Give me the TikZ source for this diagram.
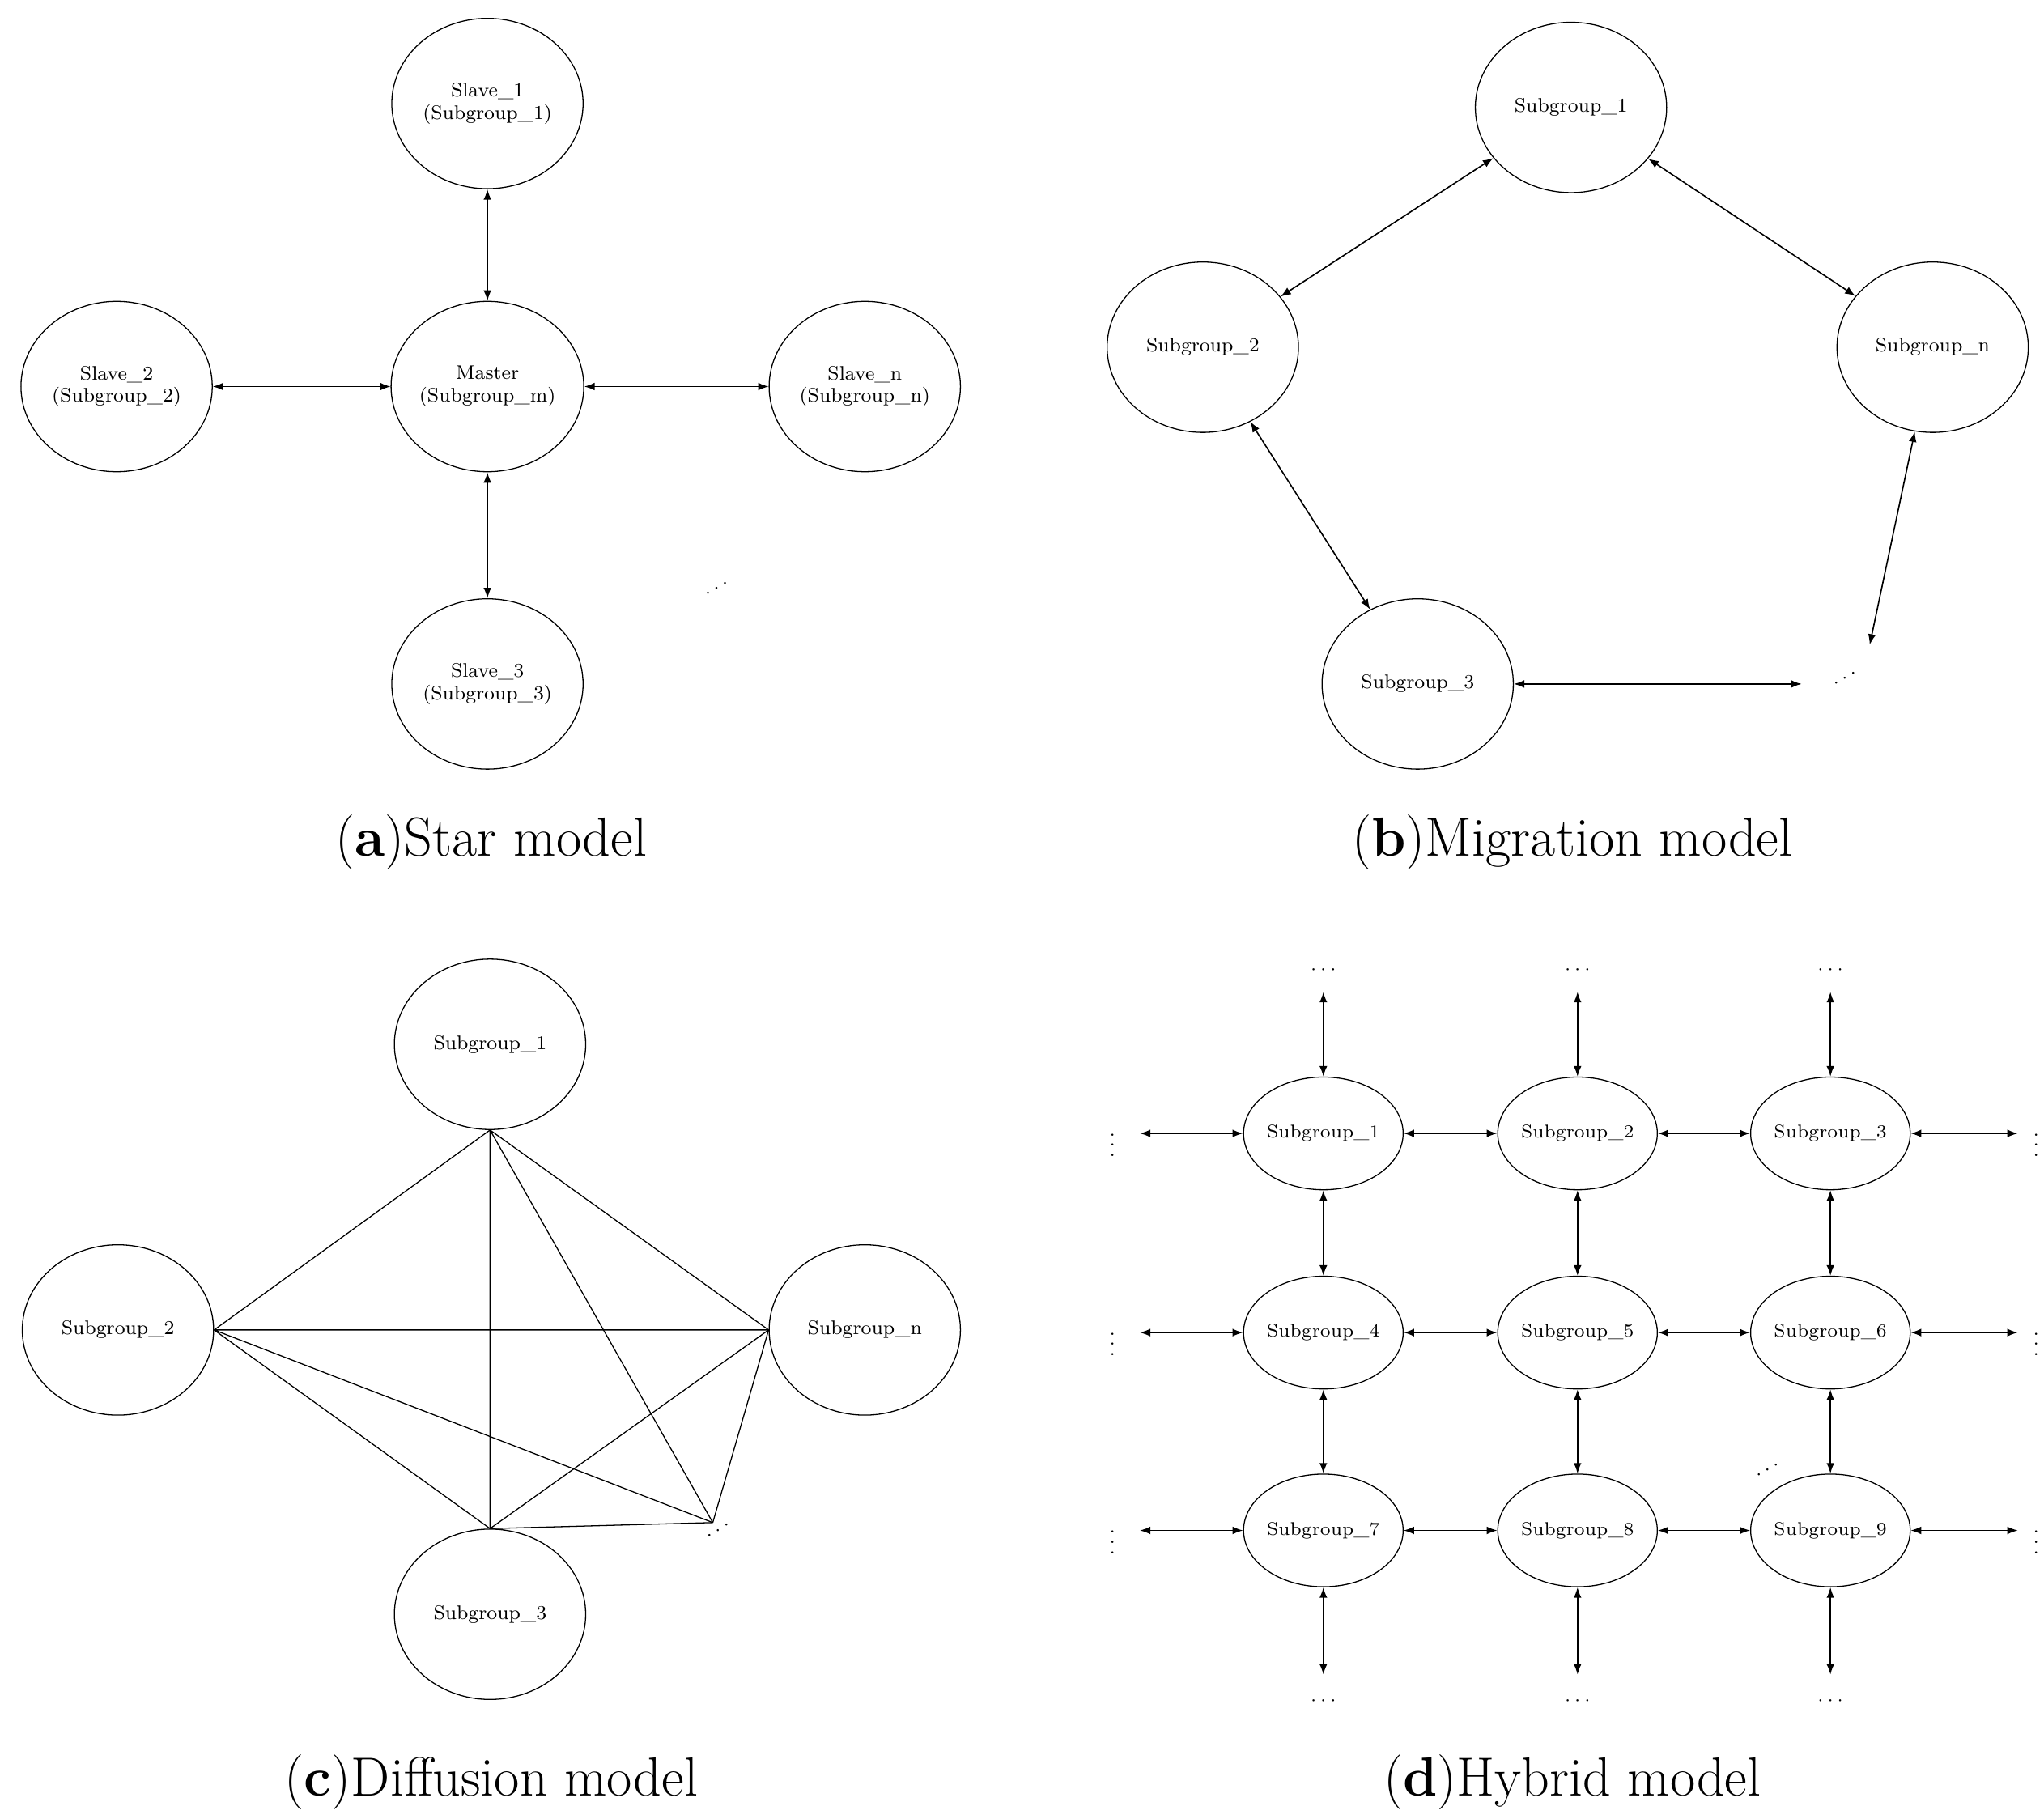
\documentclass[tikz,border=0pt]{standalone}
\usetikzlibrary{arrows.meta,shapes.geometric}
\begin{document}
\begin{tikzpicture}[x=0.5pt,y=-0.5pt,
 big/.style={draw,ellipse,minimum width=73pt,minimum height=65pt,inner sep=0pt,font=\fontsize{7.5}{8.5}\selectfont,align=center},
 sm/.style={draw,ellipse,minimum width=53pt,minimum height=43pt,inner sep=0pt,font=\fontsize{7}{8}\selectfont},
 bi/.style={{Latex[length=4pt,width=3pt]}-{Latex[length=4pt,width=3pt]},line width=0.5pt},
 ln/.style={line width=0.4pt},
 captxt/.style={font=\fontsize{21}{24}\selectfont},
 dt/.style={font=\fontsize{7}{8}\selectfont,inner sep=0pt}]
\useasboundingbox (0,0) rectangle (1560,1388);
% (a)
\node[big] (s1) at (372,79) {Slave\_1\\(Subgroup\_1)};
\node[big] (m) at (372,295) {Master\\(Subgroup\_m)};
\node[big] (s2) at (89,295) {Slave\_2\\(Subgroup\_2)};
\node[big] (sn) at (660,295) {Slave\_n\\(Subgroup\_n)};
\node[big] (s3) at (372,522) {Slave\_3\\(Subgroup\_3)};
\node[dt,rotate=30] (ad) at (547,449) {$\cdots$};
\draw[bi] (s1) -- (m);
\draw[bi] (m) -- (s2);
\draw[bi] (m) -- (sn);
\draw[bi] (m) -- (s3);
\node[captxt] (ca) at (375,643) {(\textbf{a})Star model};
% (b)
\begin{scope}[every node/.append style={font=\fontsize{7.5}{8.5}\selectfont\bfseries}]
\node[big] (b1) at (1199,82) {Subgroup\_1};
\node[big] (b2) at (918,265) {Subgroup\_2};
\node[big] (bn) at (1475,265) {Subgroup\_n};
\node[big] (b3) at (1082,522) {Subgroup\_3};
\end{scope}
\node[dt,rotate=30] (bd) at (1408,518) {$\cdots$};
\coordinate (bd1) at (1375,522);
\coordinate (bd2) at (1427,492);
\draw[bi] (b1) -- (b2);
\draw[bi] (b1) -- (bn);
\draw[bi] (b2) -- (b3);
\draw[bi] (b3) -- (bd1);
\draw[bi] (bn) -- (bd2);
\node[captxt] (cb) at (1200,643) {(\textbf{b})Migration model};
% (c)
\node[big] (c1) at (374,797) {Subgroup\_1};
\node[big] (c2) at (90,1015) {Subgroup\_2};
\node[big] (cn) at (660,1015) {Subgroup\_n};
\node[big] (c3) at (374,1232) {Subgroup\_3};
\node[dt,rotate=30] (cd) at (548,1168) {$\cdots$};
\coordinate (cdp) at (544,1162);
\draw[ln] (c1.south) -- (c2.east) (c1.south) -- (cn.west) (c1.south) -- (c3.north) (c1.south) -- (cdp);
\draw[ln] (c2.east) -- (cn.west) (c2.east) -- (c3.north) (c2.east) -- (cdp);
\draw[ln] (c3.north) -- (cn.west) (c3.north) -- (cdp) (cn.west) -- (cdp);
\node[captxt] (cc) at (375,1360) {(\textbf{c})Diffusion model};
% (d)
\foreach \n/\x/\y in {1/1010/865,2/1204/865,3/1397/865,4/1010/1017,5/1204/1017,6/1397/1017,7/1010/1168,8/1204/1168,9/1397/1168}
  \node[sm] (g\n) at (\x,\y) {Subgroup\_\n};
\foreach \c/\x in {1/1010,2/1204,3/1397}{
  \node[dt] (t\c) at (\x,740) {$\cdots$};
  \coordinate (ta\c) at (\x,757);
  \node[dt] (u\c) at (\x,1298) {$\cdots$};
  \coordinate (ua\c) at (\x,1278);
}
\foreach \r/\y in {1/865,2/1017,3/1168}{
  \node[dt] (l\r) at (849,\y+3) {$\vdots$};
  \coordinate (la\r) at (870,\y);
  \node[dt] (r\r) at (1554,\y+3) {$\vdots$};
  \coordinate (ra\r) at (1540,\y);
}
\draw[bi] (ta1) -- (g1); \draw[bi] (ta2) -- (g2); \draw[bi] (ta3) -- (g3);
\draw[bi] (ua1) -- (g7); \draw[bi] (ua2) -- (g8); \draw[bi] (ua3) -- (g9);
\draw[bi] (la1) -- (g1); \draw[bi] (la2) -- (g4); \draw[bi] (la3) -- (g7);
\draw[bi] (ra1) -- (g3); \draw[bi] (ra2) -- (g6); \draw[bi] (ra3) -- (g9);
\draw[bi] (g1) -- (g2); \draw[bi] (g2) -- (g3);
\draw[bi] (g4) -- (g5); \draw[bi] (g5) -- (g6);
\draw[bi] (g7) -- (g8); \draw[bi] (g8) -- (g9);
\draw[bi] (g1) -- (g4); \draw[bi] (g4) -- (g7);
\draw[bi] (g2) -- (g5); \draw[bi] (g5) -- (g8);
\draw[bi] (g3) -- (g6); \draw[bi] (g6) -- (g9);
\node[dt,rotate=30] (dd) at (1349,1122) {$\cdots$};
\node[captxt] (cd2) at (1200,1360) {(\textbf{d})Hybrid model};
\end{tikzpicture}
\end{document}
